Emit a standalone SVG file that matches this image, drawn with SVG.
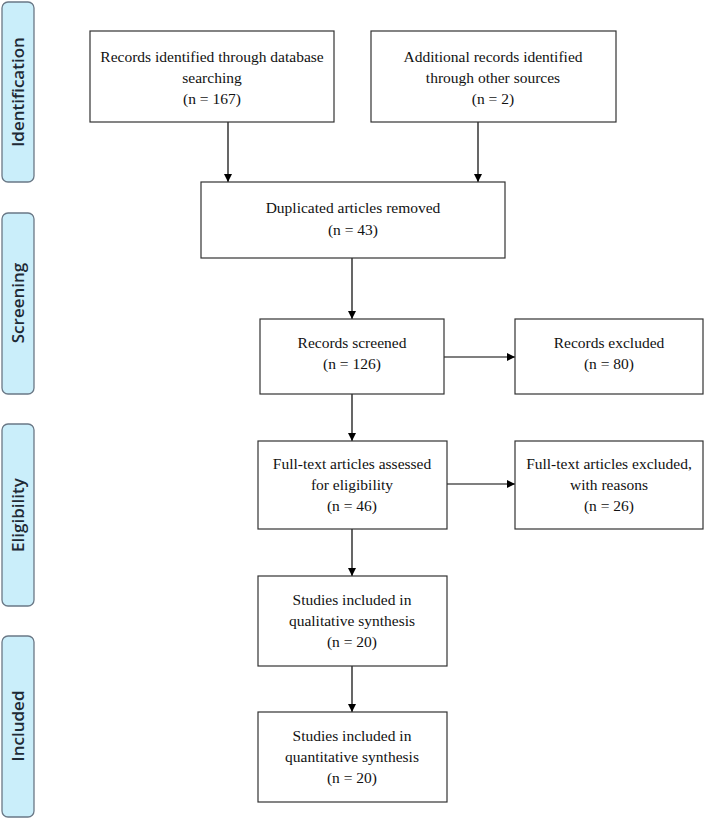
<svg xmlns="http://www.w3.org/2000/svg" width="705" height="820" viewBox="0 0 705 820">
<defs>
<marker id="ah" viewBox="0 0 10 10" refX="10" refY="5" markerWidth="8" markerHeight="8" markerUnits="userSpaceOnUse" orient="auto">
<path d="M0,0 L10,5 L0,10 Z" fill="#000"/>
</marker>
<style>
.box{fill:#fff;stroke:#333;stroke-width:1.2}
.t{font-family:"Liberation Serif","Times New Roman",serif;font-size:15.5px;fill:#111;text-anchor:middle}
.side{fill:#caeefa;stroke:#6a7886;stroke-width:1.3}
.st{font-family:"Open Sans","DejaVu Sans",sans-serif;font-weight:600;font-size:17px;fill:#1e2a36;text-anchor:middle}
.c{stroke:#000;stroke-width:1.2;fill:none;marker-end:url(#ah)}
</style>
</defs>
<rect width="705" height="820" fill="#fff"/>

<g id="side-identification">
<rect class="side" x="2" y="2" width="32" height="180" rx="6"/>
<text class="st" transform="translate(24,92) rotate(-90)">Identification</text>
</g>
<g id="side-screening">
<rect class="side" x="2" y="213" width="32" height="181" rx="6"/>
<text class="st" transform="translate(24,303) rotate(-90)">Screening</text>
</g>
<g id="side-eligibility">
<rect class="side" x="2" y="424" width="32" height="182" rx="6"/>
<text class="st" transform="translate(24,515) rotate(-90)">Eligibility</text>
</g>
<g id="side-included">
<rect class="side" x="2" y="636" width="32" height="181" rx="6"/>
<text class="st" transform="translate(24,726) rotate(-90)">Included</text>
</g>

<g id="connectors">
<line class="c" x1="228" y1="122" x2="228" y2="182"/>
<line class="c" x1="478" y1="122" x2="478" y2="182"/>
<line class="c" x1="352" y1="258" x2="352" y2="319"/>
<line class="c" x1="444" y1="357" x2="515" y2="357"/>
<line class="c" x1="352" y1="394" x2="352" y2="441"/>
<line class="c" x1="447" y1="484" x2="515" y2="484"/>
<line class="c" x1="352" y1="529" x2="352" y2="576"/>
<line class="c" x1="352" y1="666" x2="352" y2="712"/>
</g>

<g id="db-records">
<rect class="box" x="90" y="31" width="244" height="91"/>
<text class="t" x="212" y="62">Records identified through database</text>
<text class="t" x="212" y="83">searching</text>
<text class="t" x="212" y="104">(n = 167)</text>
</g>
<g id="other-records">
<rect class="box" x="371" y="31" width="245" height="91"/>
<text class="t" x="493" y="62">Additional records identified</text>
<text class="t" x="493" y="83">through other sources</text>
<text class="t" x="493" y="104">(n = 2)</text>
</g>
<g id="duplicates">
<rect class="box" x="201" y="182" width="304" height="76"/>
<text class="t" x="353" y="213">Duplicated articles removed</text>
<text class="t" x="353" y="235">(n = 43)</text>
</g>
<g id="screened">
<rect class="box" x="260" y="319" width="184" height="75"/>
<text class="t" x="352" y="348">Records screened</text>
<text class="t" x="352" y="369">(n = 126)</text>
</g>
<g id="excluded">
<rect class="box" x="515" y="319" width="188" height="75"/>
<text class="t" x="609" y="348">Records excluded</text>
<text class="t" x="609" y="369">(n = 80)</text>
</g>
<g id="fulltext">
<rect class="box" x="258" y="441" width="189" height="88"/>
<text class="t" x="352" y="469">Full-text articles assessed</text>
<text class="t" x="352" y="490">for eligibility</text>
<text class="t" x="352" y="511">(n = 46)</text>
</g>
<g id="fulltext-excluded">
<rect class="box" x="515" y="441" width="188" height="88"/>
<text class="t" x="609" y="469">Full-text articles excluded,</text>
<text class="t" x="609" y="490">with reasons</text>
<text class="t" x="609" y="511">(n = 26)</text>
</g>
<g id="qualitative">
<rect class="box" x="258" y="576" width="189" height="90"/>
<text class="t" x="352" y="605">Studies included in</text>
<text class="t" x="352" y="626">qualitative synthesis</text>
<text class="t" x="352" y="647">(n = 20)</text>
</g>
<g id="quantitative">
<rect class="box" x="258" y="712" width="189" height="90"/>
<text class="t" x="352" y="741">Studies included in</text>
<text class="t" x="352" y="762">quantitative synthesis</text>
<text class="t" x="352" y="783">(n = 20)</text>
</g>
</svg>
